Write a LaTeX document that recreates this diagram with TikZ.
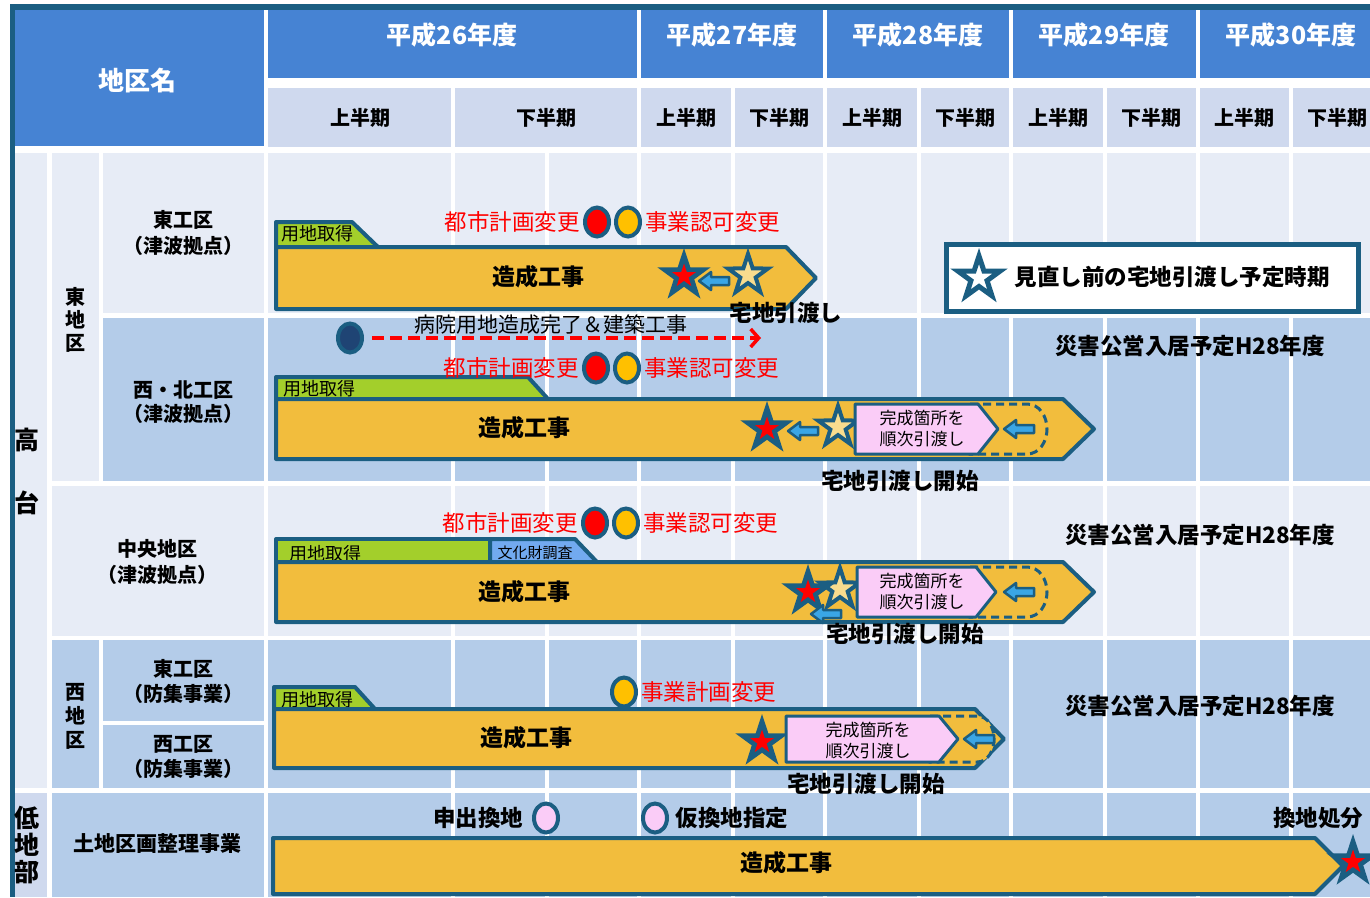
\documentclass[tikz,border=0pt]{standalone}
\usepackage{fontspec}
\setmainfont{Noto Sans CJK JP}
\usetikzlibrary{positioning, shapes.geometric, arrows.meta}

\definecolor{hdrblue}{HTML}{4683D3}
\definecolor{halfblue}{HTML}{CFD9EE}
\definecolor{paleblue}{HTML}{E7ECF6}
\definecolor{rowblue}{HTML}{B4CCE9}
\definecolor{darkline}{HTML}{1B5E82}
\definecolor{barorange}{HTML}{F2BD3D}
\definecolor{barlight}{HTML}{F8DC8E}
\definecolor{tabgreen}{HTML}{A3CF2B}
\definecolor{tabblue}{HTML}{72AAF0}
\definecolor{handpink}{HTML}{FACCF7}
\definecolor{arrowblue}{HTML}{3AA6E6}
\definecolor{dotnavy}{HTML}{1F4474}
\definecolor{dotyellow}{HTML}{FFC000}

\tikzset{
yearhdr/.style={text=white, font=\bfseries\fontsize{25}{25}\selectfont}, % year cells
halfhdr/.style={font=\bfseries\fontsize{20}{20}\selectfont}, % half-year cells
areaname/.style={align=center, font=\bfseries\fontsize{20}{26}\selectfont}, % district names
worklabel/.style={font=\bfseries\fontsize{23}{23}\selectfont}, % text on the bars
blacklabel/.style={font=\bfseries\fontsize{22.5}{22.5}\selectfont},
redlabel/.style={text=red, inner sep=1pt, font=\fontsize{22.5}{22.5}\selectfont},
tabtext/.style={anchor=west, inner sep=0pt, font=\fontsize{18}{18}\selectfont},
workbar/.style={fill=barorange, draw=darkline, line width=4pt, line join=round},
landtab/.style={fill=tabgreen, draw=darkline, line width=4pt, line join=round},
handbox/.style={fill=handpink, draw=darkline, line width=3pt, line join=round},
laterbox/.style={fill=barorange, draw=darkline, line width=3pt, dash pattern=on 8pt off 5pt},
milestone/.style={ellipse, draw=darkline, line width=4pt, minimum width=24pt, minimum height=29pt, inner sep=0pt},
oldstar/.style={star, star points=5, star point ratio=2.6, draw=darkline, line width=4pt, fill=barlight, minimum size=42pt, inner sep=0pt},
gridline/.style={white, line width=4pt},
redstar/.pic={
  \node[star, star points=5, star point ratio=2.6, fill=darkline, minimum size=56pt, inner sep=0pt] {};
  \node[star, star points=5, star point ratio=2.6, fill=red, minimum size=25pt, inner sep=0pt] {};
},
backarrow/.pic={
  \draw[fill=arrowblue, draw=darkline, line width=2.5pt, line join=round]
    (15,-4) -- (-3,-4) -- (-3,-9) -- (-15,0) -- (-3,9) -- (-3,4) -- (15,4) -- cycle;
},
}

\begin{document}
\begin{tikzpicture}[x=1pt, y=-1pt]
  \useasboundingbox (0,0) rectangle (1370,897);

  % Frame and header
  \fill[darkline] (10,4) rectangle (1370,10);
  \fill[darkline] (10,4) rectangle (15,897);
  \fill[hdrblue] (15,10) rectangle (264,146);
  \node[text=white, font=\bfseries\fontsize{26}{26}\selectfont] (areahdr) at (137,81) {地区名};
  \foreach \xa/\xb/\xc/\yr in {268/637/452/26, 641/823/732/27, 827/1009/918/28, 1013/1196/1104/29, 1200/1370/1291/30} {
    \fill[hdrblue] (\xa,10) rectangle (\xb,78);
    \node[yearhdr] (y\yr) at (\xc,35) {平成\yr 年度};
  }
  \foreach \xa/\xb/\xc/\h in {268/451/360/上, 455/637/546/下, 641/731/686/上, 735/823/779/下, 827/917/872/上,
      921/1009/965/下, 1013/1103/1058/上, 1107/1196/1151/下, 1200/1289/1244/上, 1293/1370/1337/下} {
    \fill[halfblue] (\xa,88) rectangle (\xb,147);
    \node[halfhdr] (h\xa) at (\xc,118) {\h 半期};
  }

  % Body cells
  \fill[paleblue] (268,153) rectangle (1370,313);
  \fill[rowblue] (268,318) rectangle (1370,481);
  \fill[paleblue] (268,486) rectangle (1370,636);
  \fill[rowblue] (268,640) rectangle (1370,788);
  \fill[rowblue] (268,793) rectangle (1370,897);
  \foreach \x in {453, 546.5, 639, 733, 825, 919, 1011, 1105, 1198, 1291}
    \draw[gridline] (\x,150) -- (\x,897);

  \fill[paleblue] (15,153) rectangle (47,788);
  \fill[halfblue] (15,793) rectangle (47,897);
  \fill[paleblue] (52,153) rectangle (99,481);
  \fill[rowblue] (52,640) rectangle (99,788);
  \fill[paleblue] (103,153) rectangle (264,313);
  \fill[rowblue] (103,318) rectangle (264,481);
  \fill[paleblue] (52,486) rectangle (264,636);
  \fill[rowblue] (103,640) rectangle (264,721);
  \fill[rowblue] (103,725) rectangle (264,788);
  \fill[rowblue] (52,793) rectangle (264,897);

  % District names
  \node[font=\bfseries\fontsize{25}{63}\selectfont, align=center] (takadai) at (27,471) {高\\台};
  \node[font=\bfseries\fontsize{25}{27}\selectfont, align=center] (teichi) at (27,845) {低\\地\\部};
  \node[font=\bfseries\fontsize{20}{23}\selectfont, align=center] (higashi) at (75,320) {東\\地\\区};
  \node[font=\bfseries\fontsize{20}{24}\selectfont, align=center] (nishi) at (75,716) {西\\地\\区};
  \node[areaname] (a1) at (183,233) {東工区\\（津波拠点）};
  \node[areaname, font=\bfseries\fontsize{20}{24}\selectfont] (a2) at (183,402) {西・北工区\\（津波拠点）};
  \node[areaname] (a3) at (157,562) {中央地区\\（津波拠点）};
  \node[areaname, font=\bfseries\fontsize{20}{25}\selectfont] (a4) at (183,681) {東工区\\（防集事業）};
  \node[areaname, font=\bfseries\fontsize{20}{25}\selectfont] (a5) at (183,757) {西工区\\（防集事業）};
  \node[areaname, font=\bfseries\fontsize{21}{21}\selectfont] (a6) at (157,844) {土地区画整理事業};

  % Row 1: 東工区
  \draw[landtab] (276,222) -- (352,222) -- (378,247) -- (276,247) -- cycle;
  \node[tabtext] (t1) at (281,234) {用地取得};
  \draw[workbar] (276,247) -- (786,247) -- (816,278) -- (786,309) -- (276,309) -- cycle;
  \node[worklabel] (w1) at (538,277) {造成工事};
  \pic at (684,276) {redstar};
  \pic at (714,281) {backarrow};
  \node[oldstar] (o1) at (748,275) {};
  \node[blacklabel] (d1) at (786,313) {宅地引渡し};
  \node[milestone, fill=red] (c1a) at (597,222) {};
  \node[milestone, fill=dotyellow, right=3pt of c1a] (c1b) {};
  \node[redlabel, left=2pt of c1a] (r1a) {都市計画変更};
  \node[redlabel, right=2pt of c1b] (r1b) {事業認可変更};

  % Hospital
  \node[milestone, fill=dotnavy] (hosp) at (350,338) {};
  \coordinate (hospend) at (761,338);
  \draw[red, line width=3.5pt, dash pattern=on 12pt off 6pt, shorten <=8pt, -{Straight Barb[length=8pt, width=18pt]}]
    (hosp) -- (hospend) node[pos=0.47, above=-1pt, text=black, font=\fontsize{21}{21}\selectfont] (hosptext) {病院用地造成完了＆建築工事};

  % Row 2: 西・北工区
  \draw[landtab] (276,377) -- (528,377) -- (548,399) -- (276,399) -- cycle;
  \node[tabtext] (t2) at (283,389) {用地取得};
  \draw[workbar] (276,399) -- (1063,399) -- (1094,429) -- (1063,459) -- (276,459) -- cycle;
  \draw[laterbox] (970,404) -- (1027,404) to[out=0, in=90] (1047,429) to[out=-90, in=0] (1027,454) -- (970,454) -- cycle;
  \pic at (1019,429) {backarrow};
  \node[worklabel] (w2) at (524,428) {造成工事};
  \pic at (767,429) {redstar};
  \pic at (803,431) {backarrow};
  \node[oldstar] (o2) at (838,427) {};
  \draw[handbox] (855,404) -- (978,404) -- (998,429) -- (978,454) -- (855,454) -- cycle;
  \node[align=center, font=\fontsize{17}{21}\selectfont] (p2) at (922,429) {完成箇所を\\順次引渡し};
  \node[blacklabel] (d2) at (900,481) {宅地引渡し開始};
  \node[milestone, fill=red] (c2a) at (596,368) {};
  \node[milestone, fill=dotyellow, right=3pt of c2a] (c2b) {};
  \node[redlabel, left=2pt of c2a] (r2a) {都市計画変更};
  \node[redlabel, right=2pt of c2b] (r2b) {事業認可変更};
  \node[blacklabel] (k2) at (1190,346) {災害公営入居予定H28年度};

  % Row 3: 中央地区
  \draw[landtab] (276,539) rectangle (490,562);
  \draw[landtab, fill=tabblue] (490,539) -- (575,539) -- (597,562) -- (490,562) -- cycle;
  \node[tabtext] (t3) at (289,554) {用地取得};
  \node[font=\fontsize{15}{15}\selectfont] (t3b) at (535,553) {文化財調査};
  \draw[workbar] (276,562) -- (1063,562) -- (1094,592) -- (1063,622) -- (276,622) -- cycle;
  \draw[laterbox] (970,567) -- (1027,567) to[out=0, in=90] (1047,592) to[out=-90, in=0] (1027,617) -- (970,617) -- cycle;
  \pic at (1019,592) {backarrow};
  \node[worklabel] (w3) at (524,592) {造成工事};
  \node[oldstar] (o3) at (840,589) {};
  \pic at (808,592) {redstar};
  \pic at (826,614) {backarrow};
  \draw[handbox] (857,567) -- (976,567) -- (996,592) -- (976,617) -- (857,617) -- cycle;
  \node[align=center, font=\fontsize{17}{21}\selectfont] (p3) at (922,592) {完成箇所を\\順次引渡し};
  \node[blacklabel] (d3) at (905,634) {宅地引渡し開始};
  \node[milestone, fill=red] (c3a) at (595,523) {};
  \node[milestone, fill=dotyellow, right=3pt of c3a] (c3b) {};
  \node[redlabel, left=2pt of c3a] (r3a) {都市計画変更};
  \node[redlabel, right=2pt of c3b] (r3b) {事業認可変更};
  \node[blacklabel] (k3) at (1200,535) {災害公営入居予定H28年度};

  % Row 4: 西地区
  \draw[landtab] (274,687) -- (355,687) -- (375,709) -- (274,709) -- cycle;
  \node[tabtext] (t4) at (281,700) {用地取得};
  \draw[workbar] (274,709) -- (975,709) -- (1004,739) -- (975,768) -- (274,768) -- cycle;
  \draw[laterbox] (930,716) -- (977,716) to[out=0, in=90] (994,739) to[out=-90, in=0] (977,762) -- (930,762) -- cycle;
  \pic at (979,739) {backarrow};
  \node[worklabel] (w4) at (526,738) {造成工事};
  \pic at (762,742) {redstar};
  \draw[handbox] (786,716) -- (939,716) -- (958,739) -- (939,762) -- (786,762) -- cycle;
  \node[align=center, font=\fontsize{17}{21}\selectfont] (p4) at (868,741) {完成箇所を\\順次引渡し};
  \node[blacklabel] (d4) at (866,784) {宅地引渡し開始};
  \node[milestone, fill=dotyellow] (c4) at (624,692) {};
  \node[redlabel, right=2pt of c4] (r4) {事業計画変更};
  \node[blacklabel] (k4) at (1200,706) {災害公営入居予定H28年度};

  % Row 6: 土地区画整理事業
  \node[milestone, fill=handpink] (m6a) at (546,818) {};
  \node[milestone, fill=handpink] (m6b) at (655,818) {};
  \node[blacklabel, left=5pt of m6a] (l6a) {申出換地};
  \node[blacklabel, right=3pt of m6b] (l6b) {仮換地指定};
  \draw[workbar] (273,838) -- (1315,838) -- (1343,866) -- (1315,894) -- (273,894) -- cycle;
  \node[worklabel] (w6) at (786,863) {造成工事};
  \pic at (1353,862) {redstar};
  \node[blacklabel] (l6c) at (1318,818) {換地処分};

  % Legend
  \node[draw=darkline, line width=5pt, fill=white, minimum width=412pt, minimum height=67pt, inner sep=0pt] (legend) at (1152,278) {};
  \node[oldstar, fill=white, line width=5pt, minimum size=44pt] (legstar) at (979,278) {};
  \node[blacklabel] (legtext) at (1172,277) {見直し前の宅地引渡し予定時期};
\end{tikzpicture}
\end{document}
